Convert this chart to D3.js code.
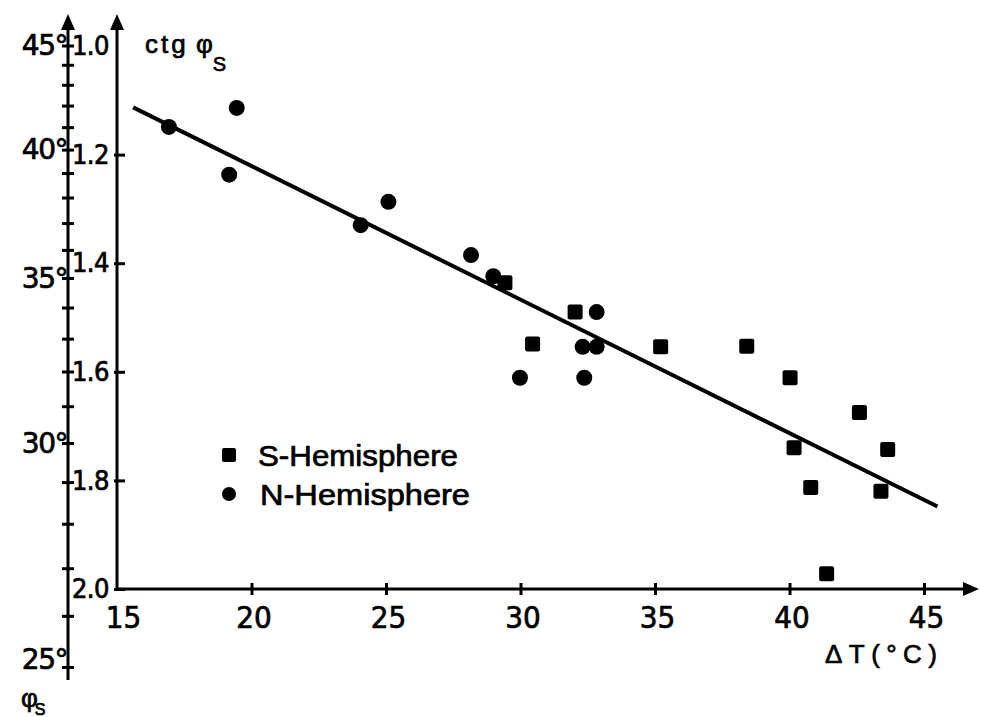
<!DOCTYPE html>
<html>
<head>
<meta charset="utf-8">
<script src="https://cdn.jsdelivr.net/npm/d3@7"></script>
<style>
  body { margin: 0; background: #fff; }
  svg text { font-family: "Liberation Sans", "DejaVu Sans", sans-serif; fill: #000; stroke: #000; stroke-width: 0.7px; }
  .narrow { font-family: "Liberation Sans Narrow", "DejaVu Sans Condensed", sans-serif; }
  .wide { font-family: "DejaVu Sans", "Liberation Sans", sans-serif; }
</style>
</head>
<body>
<div id="chart"></div>
<script>
// tick values
const dtTicks = [15, 20, 25, 30, 35, 40, 45];
const ctgTicks = [1.0, 1.2, 1.4, 1.6, 1.8, 2.0];
const angleTicks = [25, 26, 27, 28, 29, 30, 31, 32, 33, 34, 35, 36, 37, 38, 39, 40, 41, 42, 43, 44, 45];
const angleLabels = [25, 30, 35, 40, 45];

// S-Hemisphere (squares)
const southDT  = [29.42, 30.45, 32.03, 35.21, 38.41, 40.02, 40.17, 40.79, 41.38, 42.60, 43.65, 43.40];
const southCtg = [1.436, 1.549, 1.490, 1.554, 1.553, 1.611, 1.740, 1.813, 1.972, 1.675, 1.743, 1.820];

// N-Hemisphere (dots)
const northDT  = [16.93, 19.45, 19.17, 24.06, 25.09, 28.16, 28.99, 29.98, 32.31, 32.37, 32.83, 32.83];
const northCtg = [1.149, 1.114, 1.237, 1.330, 1.287, 1.385, 1.424, 1.611, 1.554, 1.611, 1.490, 1.554];

// regression line ends
const fitDT  = [15.6, 45.5];
const fitCtg = [1.113, 1.848];

const width = 981, height = 717;

const x = d3.scaleLinear().domain([15, 45]).range([117, 924]);
const y = d3.scaleLinear().domain([1.0, 2.0]).range([46, 589]);
const angleX = 68;
const ctgOf = deg => 1 / Math.tan(deg * Math.PI / 180);

const svg = d3.select('#chart').append('svg')
    .attr('width', width)
    .attr('height', height)
    .style('background', '#fff');

const ink = '#000';

// arrow head helper
function arrowHead(tipX, tipY, dir) {
    const p = d3.path();
    if (dir === 'up') {
        p.moveTo(tipX, tipY); p.lineTo(tipX - 7, tipY + 16); p.lineTo(tipX + 7, tipY + 16);
    } else {
        p.moveTo(tipX, tipY); p.lineTo(tipX - 16, tipY - 7); p.lineTo(tipX - 16, tipY + 7);
    }
    p.closePath();
    svg.append('path').attr('d', p.toString()).attr('fill', ink);
}

// x axis (delta T)
const xAxis = svg.append('g')
    .attr('transform', `translate(0,${y(2.0)})`)
    .call(d3.axisBottom(x).tickValues(dtTicks).tickSizeOuter(0).tickSizeInner(7).tickPadding(10));
xAxis.select('.domain').remove();
xAxis.selectAll('.tick line').attr('y1', -6).attr('y2', 6).attr('stroke', ink).attr('stroke-width', 3);
xAxis.selectAll('.tick').filter(d => d === 15).select('line').remove();
xAxis.selectAll('.tick text')
    .attr('class', 'narrow')
    .attr('font-size', 31)
    .attr('dx', d => d === 15 ? 6 : 2)
    .attr('fill', ink);
svg.append('line')
    .attr('x1', x(15)).attr('x2', 966)
    .attr('y1', y(2.0)).attr('y2', y(2.0))
    .attr('stroke', ink).attr('stroke-width', 3);
arrowHead(979, y(2.0), 'right');

// ctg axis
const yAxis = svg.append('g')
    .attr('transform', `translate(${x(15)},0)`)
    .call(d3.axisLeft(y).tickValues(ctgTicks).tickSizeOuter(0).tickSizeInner(-8).tickPadding(8)
        .tickFormat(d3.format('.1f')));
yAxis.select('.domain').remove();
yAxis.selectAll('.tick line').attr('x1', -3).attr('stroke', ink).attr('stroke-width', 3);
yAxis.selectAll('.tick').filter(d => d === 1.0).select('line').remove();
yAxis.selectAll('.tick text')
    .attr('class', 'narrow')
    .attr('font-size', 27)
    .attr('letter-spacing', -0.5)
    .attr('fill', ink);
svg.append('line')
    .attr('x1', x(15)).attr('x2', x(15))
    .attr('y1', y(2.0) + 1).attr('y2', 28)
    .attr('stroke', ink).attr('stroke-width', 3);
arrowHead(x(15), 14, 'up');

// angle axis (phi_s), placed on the ctg scale
svg.append('line')
    .attr('x1', angleX).attr('x2', angleX)
    .attr('y1', 680).attr('y2', 28)
    .attr('stroke', ink).attr('stroke-width', 3);
arrowHead(angleX, 14, 'up');
svg.selectAll('line.angle-tick')
    .data(angleTicks)
    .join('line')
    .attr('class', 'angle-tick')
    .attr('x1', angleX - 6).attr('x2', angleX + 6)
    .attr('y1', d => y(ctgOf(d))).attr('y2', d => y(ctgOf(d)))
    .attr('stroke', ink).attr('stroke-width', 3);
svg.selectAll('text.angle-label')
    .data(angleLabels)
    .join('text')
    .attr('class', 'angle-label wide')
    .attr('x', angleX - 1)
    .attr('y', d => y(ctgOf(d)))
    .attr('dy', d => d === 25 ? '0.05em' : '0.33em')
    .attr('text-anchor', 'end')
    .attr('font-size', 28)
    .attr('letter-spacing', -1.5)
    .text(d => d + '°');

// titles
const ctgTitle = svg.append('text').attr('x', 145).attr('y', 53).attr('font-size', 26);
ctgTitle.append('tspan').text('ctg').attr('letter-spacing', 3);
ctgTitle.append('tspan').text(' φ');
ctgTitle.append('tspan').text('S').attr('font-size', 20).attr('dy', 18).attr('dx', 0);

const phiTitle = svg.append('text').attr('x', 21).attr('y', 707).attr('font-size', 26);
phiTitle.append('tspan').text('φ');
phiTitle.append('tspan').text('S').attr('font-size', 16).attr('dy', 8).attr('dx', -3);

svg.append('text')
    .attr('x', 825).attr('y', 663)
    .attr('font-size', 26)
    .attr('textLength', 112)
    .attr('lengthAdjust', 'spacing')
    .text('ΔT(°C)');

// regression line
svg.append('line')
    .attr('x1', x(fitDT[0])).attr('y1', y(fitCtg[0]))
    .attr('x2', x(fitDT[1])).attr('y2', y(fitCtg[1]))
    .attr('stroke', ink).attr('stroke-width', 4);

// points
const south = southDT.map((d, i) => ({ dt: d, ctg: southCtg[i] }));
const north = northDT.map((d, i) => ({ dt: d, ctg: northCtg[i] }));

svg.selectAll('circle.north')
    .data(north)
    .join('circle')
    .attr('class', 'north')
    .attr('cx', d => x(d.dt))
    .attr('cy', d => y(d.ctg))
    .attr('r', 8)
    .attr('fill', ink);

const sq = 15;
svg.selectAll('rect.south')
    .data(south)
    .join('rect')
    .attr('class', 'south')
    .attr('x', d => x(d.dt) - sq / 2)
    .attr('y', d => y(d.ctg) - sq / 2)
    .attr('width', sq).attr('height', sq)
    .attr('rx', 2)
    .attr('fill', ink);

// legend
svg.append('rect')
    .attr('x', 222).attr('y', 448).attr('width', 14).attr('height', 14).attr('rx', 2).attr('fill', ink);
svg.append('text')
    .attr('x', 258).attr('y', 466)
    .attr('font-size', 29)
    .attr('textLength', 200)
    .attr('lengthAdjust', 'spacingAndGlyphs')
    .text('S-Hemisphere');
svg.append('circle')
    .attr('cx', 229).attr('cy', 494).attr('r', 7).attr('fill', ink);
svg.append('text')
    .attr('x', 260).attr('y', 505)
    .attr('font-size', 29)
    .attr('textLength', 210)
    .attr('lengthAdjust', 'spacingAndGlyphs')
    .text('N-Hemisphere');
</script>
</body>
</html>
